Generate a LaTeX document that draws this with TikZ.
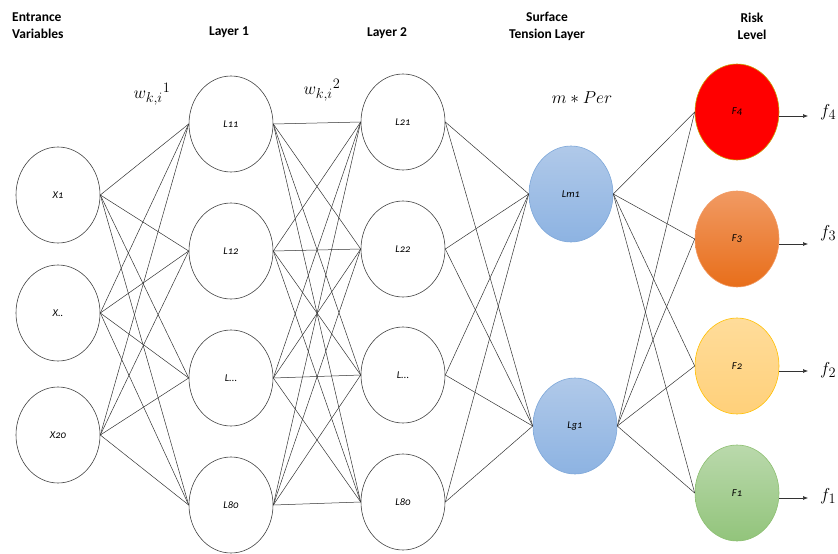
\documentclass[tikz,border=0pt]{standalone}
\usepackage{fontspec}
\setmainfont{Carlito}
\usetikzlibrary{shapes.geometric,arrows.meta}
\definecolor{blueT}{HTML}{B0C9E9}
\definecolor{blueB}{HTML}{8DB3E2}
\definecolor{blueD}{HTML}{7DA7D9}
\definecolor{orT}{HTML}{F19A63}
\definecolor{orB}{HTML}{E86E1A}
\definecolor{yeT}{HTML}{FFDC9A}
\definecolor{yeB}{HTML}{FFD07A}
\definecolor{yeD}{HTML}{FFC000}
\definecolor{grT}{HTML}{BAD9AC}
\definecolor{grB}{HTML}{92C47B}
\definecolor{grD}{HTML}{8CBF70}
\definecolor{redD}{HTML}{C9A000}
\begin{document}
\begin{tikzpicture}[x=1pt,y=-1pt,
  neuron/.style={ellipse,draw=black!75,line width=0.6pt,inner sep=0pt,
    minimum width=84pt,minimum height=96pt,
    font=\itshape\fontsize{10.5}{12}\selectfont\addfontfeatures{Numbers=OldStyle}},
  hdr/.style={font=\bfseries\fontsize{13.5}{17}\selectfont,align=center,inner sep=0pt},
  mlab/.style={font=\fontsize{19}{22}\selectfont,inner sep=0pt},
  link/.style={draw=black!80,line width=0.5pt},
  outarrow/.style={draw=black!80,line width=0.6pt,-{Latex[length=5pt,width=4pt]}},
  bluen/.style={neuron,draw=blueD,top color=blueT,bottom color=blueB},
]
\useasboundingbox (0,0) rectangle (838,554);
% headers
\node[hdr,align=left,anchor=west] (h0) at (12,26) {Entrance\\Variables};
\node[hdr] (h1) at (229,32) {Layer 1};
\node[hdr] (h2) at (387,33) {Layer 2};
\node[hdr] (h3) at (547,26) {Surface\\Tension Layer};
\node[hdr] (h4) at (752,26) {Risk\\Level};
% weight labels
\node[mlab] (w1) at (152,94) {$w_{k,i}{}^{1}$};
\node[mlab] (w2) at (322,90) {$w_{k,i}{}^{2}$};
\node[mlab] (mp) at (582,98) {$m*Per$};
% input layer
\node[neuron] (X1) at (58,195) {X1};
\node[neuron] (Xd) at (58,313) {X..};
\node[neuron] (X20) at (58,435) {X20};
% layer 1
\node[neuron] (L11) at (231,124) {L11};
\node[neuron] (L12) at (231,251) {L12};
\node[neuron] (L13) at (231,378) {L...};
\node[neuron] (L14) at (231,505) {L80};
% layer 2
\node[neuron] (L21) at (403,122) {L21};
\node[neuron] (L22) at (403,249) {L22};
\node[neuron] (L23) at (403,375) {L...};
\node[neuron] (L24) at (403,502) {L80};
% surface tension layer
\node[bluen] (Lm) at (571,194) {Lm1};
\node[bluen] (Lg) at (575,426) {Lg1};
% risk level
\node[neuron,draw=redD,fill=red] (F4) at (737,112) {F4};
\node[neuron,draw=orT,top color=orT,bottom color=orB] (F3) at (737,239) {F3};
\node[neuron,draw=yeD,top color=yeT,bottom color=yeB] (F2) at (737,366) {F2};
\node[neuron,draw=grD,top color=grT,bottom color=grB] (F1) at (737,493) {F1};
% connections
\foreach \a in {X1,Xd,X20}
  \foreach \b in {L11,L12,L13,L14}
    \draw[link] (\a.east) -- (\b.west);
\foreach \a in {L11,L12,L13,L14}
  \foreach \b in {L21,L22,L23,L24}
    \draw[link] (\a.east) -- (\b.west);
\foreach \a in {L21,L22,L23,L24}
  \foreach \b in {Lm,Lg}
    \draw[link] (\a.east) -- (\b.west);
\foreach \a in {Lm,Lg}
  \foreach \b in {F4,F3,F2,F1}
    \draw[link] (\a.east) -- (\b.west);
% outputs
\node[mlab,anchor=west] (f4) at (820,112) {$f_4$};
\node[mlab,anchor=west] (f3) at (820,233) {$f_3$};
\node[mlab,anchor=west] (f2) at (820,370) {$f_2$};
\node[mlab,anchor=west] (f1) at (820,496) {$f_1$};
\coordinate (e4) at (808,116);
\coordinate (e3) at (808,244);
\coordinate (e2) at (808,371);
\coordinate (e1) at (808,498);
\draw[outarrow] (F4.east |- e4) -- (e4);
\draw[outarrow] (F3.east |- e3) -- (e3);
\draw[outarrow] (F2.east |- e2) -- (e2);
\draw[outarrow] (F1.east |- e1) -- (e1);
\end{tikzpicture}
\end{document}
